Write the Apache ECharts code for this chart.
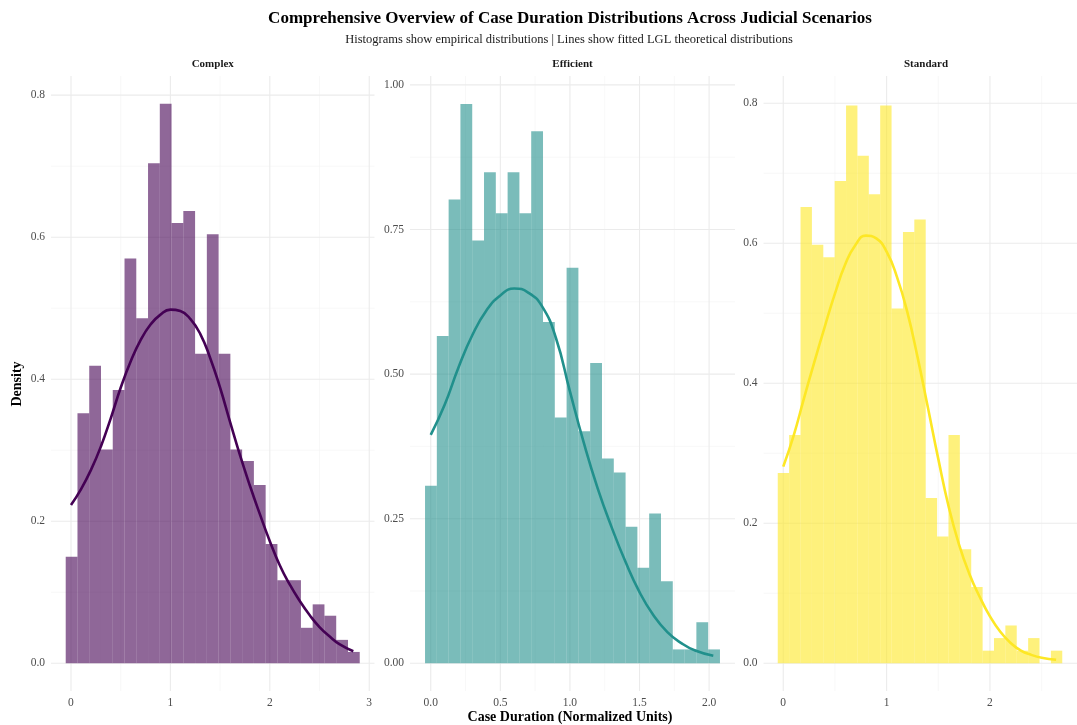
<!DOCTYPE html>
<html>
<head>
<meta charset="utf-8">
<title>Case Duration Distributions</title>
<script src="https://cdn.jsdelivr.net/npm/echarts@6/dist/echarts.min.js"></script>
<style>
  html, body { margin: 0; padding: 0; background: #ffffff; }
  #chart { width: 1077px; height: 725px; }
</style>
</head>
<body>
<div id="chart"></div>
<script>
// Histogram densities per scenario (25 equal-width bins each)
const complexBinStart = -0.053;
const complexBinWidth = 0.1183;
const complexDensity = [0.150, 0.352, 0.419, 0.301, 0.385, 0.570, 0.486, 0.704, 0.788, 0.620,
  0.637, 0.436, 0.604, 0.436, 0.301, 0.285, 0.251, 0.168, 0.117, 0.117,
  0.050, 0.083, 0.067, 0.033, 0.016];

const efficientBinStart = -0.041;
const efficientBinWidth = 0.08476;
const efficientDensity = [0.307, 0.566, 0.802, 0.967, 0.731, 0.849, 0.778, 0.849, 0.778, 0.920,
  0.590, 0.425, 0.684, 0.401, 0.519, 0.354, 0.330, 0.236, 0.165, 0.259,
  0.142, 0.024, 0.024, 0.071, 0.024];

const standardBinStart = -0.053;
const standardBinWidth = 0.1101;
const standardDensity = [0.272, 0.326, 0.652, 0.598, 0.580, 0.689, 0.797, 0.725, 0.670, 0.797,
  0.507, 0.616, 0.634, 0.236, 0.181, 0.326, 0.163, 0.109, 0.018, 0.036,
  0.054, 0.018, 0.036, 0.000, 0.018];

// Fitted LGL density curves
const complexCurveX = [0, 0.1, 0.2, 0.3, 0.4, 0.5, 0.6, 0.7, 0.8, 0.9, 1.0, 1.1, 1.2, 1.3, 1.4,
  1.5, 1.6, 1.7, 1.8, 1.9, 2.0, 2.1, 2.2, 2.3, 2.4, 2.5, 2.6, 2.7, 2.84];
const complexCurveY = [0.223, 0.245, 0.272, 0.305, 0.345, 0.388, 0.425, 0.455, 0.477, 0.491, 0.498, 0.496, 0.485, 0.464, 0.430,
  0.388, 0.340, 0.293, 0.250, 0.210, 0.172, 0.138, 0.111, 0.088, 0.068, 0.051, 0.038, 0.027, 0.017];

const efficientCurveX = [0, 0.1, 0.2, 0.3, 0.4, 0.5, 0.6, 0.7, 0.8, 0.9, 1.0, 1.1, 1.2, 1.3, 1.4,
  1.5, 1.6, 1.7, 1.8, 1.9, 2.03];
const efficientCurveY = [0.395, 0.447, 0.512, 0.568, 0.610, 0.636, 0.648, 0.641, 0.617, 0.562, 0.470, 0.381, 0.302, 0.235, 0.175,
  0.123, 0.083, 0.054, 0.035, 0.022, 0.013];

const standardCurveX = [0, 0.1, 0.2, 0.3, 0.4, 0.5, 0.6, 0.7, 0.8, 0.9, 1.0, 1.1, 1.2, 1.3, 1.4,
  1.5, 1.6, 1.7, 1.8, 1.9, 2.0, 2.1, 2.2, 2.3, 2.4, 2.5, 2.64];
const standardCurveY = [0.281, 0.325, 0.378, 0.430, 0.480, 0.528, 0.570, 0.598, 0.611, 0.607, 0.588, 0.552, 0.502, 0.437, 0.365,
  0.292, 0.224, 0.170, 0.128, 0.095, 0.067, 0.045, 0.029, 0.018, 0.012, 0.008, 0.005];

// Axis breaks
const complexXTicks = [0, 1, 2, 3];
const complexXMinor = [0.5, 1.5, 2.5];
const complexYTicks = [0, 0.2, 0.4, 0.6, 0.8];
const complexYMinor = [0.1, 0.3, 0.5, 0.7];

const efficientXTicks = [0, 0.5, 1.0, 1.5, 2.0];
const efficientXMinor = [0.25, 0.75, 1.25, 1.75];
const efficientYTicks = [0, 0.25, 0.5, 0.75, 1.0];
const efficientYMinor = [0.125, 0.375, 0.625, 0.875];

const standardXTicks = [0, 1, 2];
const standardXMinor = [0.5, 1.5, 2.5];
const standardYTicks = [0, 0.2, 0.4, 0.6, 0.8];
const standardYMinor = [0.1, 0.3, 0.5, 0.7];

const FONT = '"Liberation Serif", "Times New Roman", serif';

const panels = [
  {
    name: 'Complex', color: '#440154',
    binStart: complexBinStart, binWidth: complexBinWidth, density: complexDensity,
    curveX: complexCurveX, curveY: complexCurveY,
    xTicks: complexXTicks, xMinor: complexXMinor, yTicks: complexYTicks, yMinor: complexYMinor,
    xDigits: 0, yDigits: 1,
    grid: { left: 51, top: 76, width: 323.5, height: 615 },
    xRange: [-0.201, 3.053], yRange: [-0.039, 0.827]
  },
  {
    name: 'Efficient', color: '#21908C',
    binStart: efficientBinStart, binWidth: efficientBinWidth, density: efficientDensity,
    curveX: efficientCurveX, curveY: efficientCurveY,
    xTicks: efficientXTicks, xMinor: efficientXMinor, yTicks: efficientYTicks, yMinor: efficientYMinor,
    xDigits: 1, yDigits: 2,
    grid: { left: 410, top: 76, width: 325, height: 615 },
    xRange: [-0.149, 2.186], yRange: [-0.0479, 1.0154]
  },
  {
    name: 'Standard', color: '#FDE725',
    binStart: standardBinStart, binWidth: standardBinWidth, density: standardDensity,
    curveX: standardCurveX, curveY: standardCurveY,
    xTicks: standardXTicks, xMinor: standardXMinor, yTicks: standardYTicks, yMinor: standardYMinor,
    xDigits: 0, yDigits: 1,
    grid: { left: 763.5, top: 76, width: 325, height: 615 },
    xRange: [-0.191, 2.842], yRange: [-0.0396, 0.839]
  }
];

const grids = [], xAxes = [], yAxes = [], series = [], graphics = [];

panels.forEach((p, i) => {
  grids.push(Object.assign({ containLabel: false }, p.grid));

  xAxes.push({
    type: 'value', gridIndex: i, min: p.xRange[0], max: p.xRange[1],
    axisLine: { show: false }, axisTick: { show: false }, splitLine: { show: false },
    axisLabel: {
      customValues: p.xTicks, margin: 6,
      fontFamily: FONT, fontSize: 11.5, color: '#4D4D4D',
      formatter: v => Number(v).toFixed(p.xDigits)
    }
  });
  yAxes.push({
    type: 'value', gridIndex: i, min: p.yRange[0], max: p.yRange[1],
    axisLine: { show: false }, axisTick: { show: false }, splitLine: { show: false },
    axisLabel: {
      customValues: p.yTicks, margin: 6,
      fontFamily: FONT, fontSize: 11.5, color: '#4D4D4D',
      formatter: v => Number(v).toFixed(p.yDigits)
    }
  });

  // Panel gridlines: [break value, 0 = vertical / 1 = horizontal, 1 = major / 0 = minor]
  const lines = [];
  p.xMinor.forEach(v => lines.push([v, 0, 0]));
  p.yMinor.forEach(v => lines.push([v, 1, 0]));
  p.xTicks.forEach(v => lines.push([v, 0, 1]));
  p.yTicks.forEach(v => lines.push([v, 1, 1]));
  series.push({
    type: 'custom', xAxisIndex: i, yAxisIndex: i, z: 0, silent: true,
    data: lines,
    encode: { x: -1, y: -1 },
    renderItem: (params, api) => {
      const cs = params.coordSys;
      const v = api.value(0), horiz = api.value(1) === 1, isMajor = api.value(2) === 1;
      let shape;
      if (horiz) {
        const y = api.coord([0, v])[1];
        shape = { x1: cs.x, y1: y, x2: cs.x + cs.width, y2: y };
      } else {
        const x = api.coord([v, 0])[0];
        shape = { x1: x, y1: cs.y, x2: x, y2: cs.y + cs.height };
      }
      return {
        type: 'line', shape: shape,
        style: { stroke: isMajor ? '#EBEBEB' : '#F4F4F4', lineWidth: isMajor ? 1.1 : 0.6 }
      };
    }
  });

  // Histogram bars: [left edge, right edge, density]
  const bars = p.density.map((d, k) => [p.binStart + k * p.binWidth, p.binStart + (k + 1) * p.binWidth, d]);
  series.push({
    type: 'custom', xAxisIndex: i, yAxisIndex: i, z: 2, silent: true,
    data: bars,
    encode: { x: [0, 1], y: 2 },
    renderItem: (params, api) => {
      const a = api.coord([api.value(0), api.value(2)]);
      const b = api.coord([api.value(1), 0]);
      return {
        type: 'rect',
        shape: { x: a[0], y: a[1], width: b[0] - a[0], height: b[1] - a[1] },
        style: { fill: p.color, opacity: 0.6 }
      };
    }
  });

  // Fitted curve
  series.push({
    type: 'line', xAxisIndex: i, yAxisIndex: i, z: 3, silent: true,
    data: p.curveX.map((x, k) => [x, p.curveY[k]]),
    smooth: 0.5, showSymbol: false, symbol: 'none',
    lineStyle: { color: p.color, width: 2.6, cap: 'butt', join: 'round' }
  });

  // Facet strip label
  graphics.push({
    type: 'text', x: p.grid.left + p.grid.width / 2, y: 64,
    style: { text: p.name, fontFamily: FONT, fontSize: 11, fontWeight: 'bold', fill: '#1A1A1A',
      textAlign: 'center', textVerticalAlign: 'middle' }
  });
});

graphics.push(
  { type: 'text', x: 570, y: 19,
    style: { text: 'Comprehensive Overview of Case Duration Distributions Across Judicial Scenarios',
      fontFamily: FONT, fontSize: 17, fontWeight: 'bold', fill: '#000000',
      textAlign: 'center', textVerticalAlign: 'middle' } },
  { type: 'text', x: 569, y: 40,
    style: { text: 'Histograms show empirical distributions | Lines show fitted LGL theoretical distributions',
      fontFamily: FONT, fontSize: 12.5, fill: '#1A1A1A',
      textAlign: 'center', textVerticalAlign: 'middle' } },
  { type: 'text', x: 570, y: 717,
    style: { text: 'Case Duration (Normalized Units)',
      fontFamily: FONT, fontSize: 14, fontWeight: 'bold', fill: '#000000',
      textAlign: 'center', textVerticalAlign: 'middle' } },
  { type: 'text', x: 17, y: 384, rotation: Math.PI / 2,
    style: { text: 'Density',
      fontFamily: FONT, fontSize: 14, fontWeight: 'bold', fill: '#000000',
      textAlign: 'center', textVerticalAlign: 'middle' } }
);

const chart = echarts.init(document.getElementById('chart'), null, { renderer: 'canvas' });
chart.setOption({
  backgroundColor: '#ffffff',
  animation: false,
  grid: grids,
  xAxis: xAxes,
  yAxis: yAxes,
  series: series,
  graphic: graphics
});
</script>
</body>
</html>
